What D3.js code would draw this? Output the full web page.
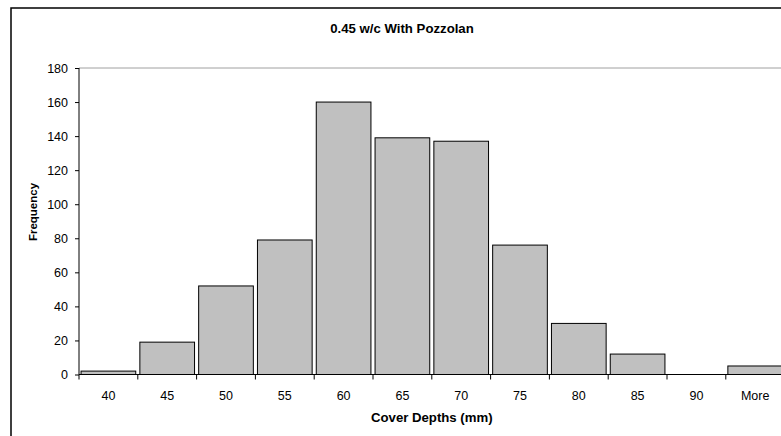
<!DOCTYPE html>
<html>
<head>
<meta charset="utf-8">
<script src="https://cdn.jsdelivr.net/npm/d3@7"></script>
<style>
  html, body { margin: 0; padding: 0; background: #fff; }
  svg { display: block; font-family: "Liberation Sans", Arial, sans-serif; }
</style>
</head>
<body>
<svg id="chart" width="781" height="436"></svg>
<script>
// Cover depth histogram, bins of 5 mm
const categories = ["40", "45", "50", "55", "60", "65", "70", "75", "80", "85", "90", "More"];
const frequencies = [2, 19, 52, 79, 160, 139, 137, 76, 30, 12, 0, 5];
const yTicks = [0, 20, 40, 60, 80, 100, 120, 140, 160, 180];
const titleText = "0.45 w/c With Pozzolan";
const xTitle = "Cover Depths (mm)";
const yTitle = "Frequency";

const svg = d3.select("#chart");
const W = 781, H = 436;
const plot = { left: 79, right: 784.6, top: 68, bottom: 374.5 };

// chart frame
svg.append("rect")
  .attr("x", 11).attr("y", 8)
  .attr("width", 800).attr("height", 460)
  .attr("fill", "#fff").attr("stroke", "#000").attr("stroke-width", 1.5);

const x = d3.scaleBand()
  .domain(categories)
  .range([plot.left, plot.right])
  .paddingInner(0.07)
  .paddingOuter(0.035);

const y = d3.scaleLinear()
  .domain([0, 180])
  .range([plot.bottom, plot.top]);

// top gridline
svg.append("line")
  .attr("x1", plot.left).attr("x2", W)
  .attr("y1", y(180)).attr("y2", y(180))
  .attr("stroke", "#a0a0a0").attr("stroke-width", 1);

// bars
svg.append("g").selectAll("rect")
  .data(categories.map((c, i) => ({ c, v: frequencies[i] })))
  .join("rect")
  .attr("x", d => x(d.c))
  .attr("width", x.bandwidth())
  .attr("y", d => y(d.v))
  .attr("height", d => y(0) - y(d.v))
  .attr("fill", d => d.v > 0 ? "#c0c0c0" : "none")
  .attr("stroke", d => d.v > 0 ? "#000" : "none")
  .attr("stroke-width", 1);

// y axis
const yAxis = d3.axisLeft(y).tickValues(yTicks).tickSize(4).tickPadding(7);
const gy = svg.append("g").attr("transform", `translate(${plot.left},0)`).call(yAxis);
gy.select(".domain").attr("stroke", "#000").attr("d", `M-0,${plot.top}V${plot.bottom}`);
gy.selectAll(".tick line").attr("stroke", "#000");
gy.selectAll(".tick text").attr("font-size", 12.5).attr("fill", "#000")
  .attr("font-family", "Liberation Sans, Arial, sans-serif");

// x axis: category labels centred, ticks between categories
const gx = svg.append("g").attr("transform", `translate(0,${plot.bottom})`);
gx.append("line")
  .attr("x1", plot.left).attr("x2", plot.right)
  .attr("y1", 0).attr("y2", 0)
  .attr("stroke", "#000");
const xEdges = d3.scaleLinear().domain([0, categories.length]).range([plot.left, plot.right]);
gx.selectAll("line.tk")
  .data(d3.range(categories.length + 1))
  .join("line").attr("class", "tk")
  .attr("x1", i => xEdges(i)).attr("x2", i => xEdges(i))
  .attr("y1", 0).attr("y2", 5)
  .attr("stroke", "#000");
gx.selectAll("text")
  .data(categories)
  .join("text")
  .attr("x", (d, i) => xEdges(i + 0.5))
  .attr("y", 25)
  .attr("text-anchor", "middle")
  .attr("font-size", 12.5)
  .attr("fill", "#000")
  .text(d => d);

// titles
svg.append("text")
  .attr("x", 402).attr("y", 32.5)
  .attr("text-anchor", "middle")
  .attr("font-size", 13.2).attr("font-weight", "bold")
  .text(titleText);

svg.append("text")
  .attr("x", (plot.left + plot.right) / 2).attr("y", 421.5)
  .attr("text-anchor", "middle")
  .attr("font-size", 13.2).attr("font-weight", "bold")
  .text(xTitle);

svg.append("text")
  .attr("transform", `translate(36.5,212) rotate(-90)`)
  .attr("text-anchor", "middle")
  .attr("font-size", 11.5).attr("font-weight", "bold")
  .text(yTitle);
</script>
</body>
</html>
